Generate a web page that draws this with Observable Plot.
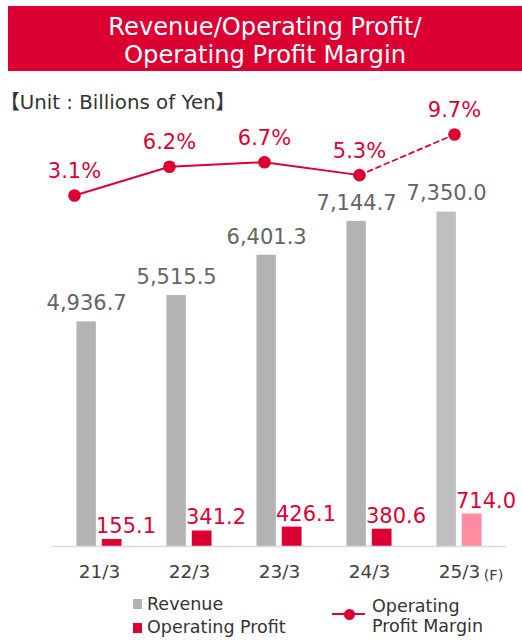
<!DOCTYPE html>
<html>
<head>
<meta charset="utf-8">
<script src="https://cdn.jsdelivr.net/npm/d3@7"></script>
<script src="https://cdn.jsdelivr.net/npm/@observablehq/plot@0.6"></script>
<style>
  html, body { margin: 0; padding: 0; background: #fff; }
  #wrap { position: relative; width: 522px; height: 640px; overflow: hidden; font-family: "DejaVu Sans", Verdana, sans-serif; }
  #wrap > div, #wrap > svg { position: absolute; }
  .title { left: 8px; top: 6px; width: 514px; height: 65px; background: #dc0032; color: #fff; font-size: 24.2px; line-height: 28px; text-align: center; padding-top: 7px; box-sizing: border-box; }
  .unit { left: 0px; top: 93px; font-size: 19.8px; line-height: 1; color: #333; white-space: nowrap; font-family: "DejaVu Sans", "Noto Sans CJK JP", sans-serif; }
  .leg { font-size: 17.5px; line-height: 20px; color: #333; white-space: nowrap; }
  .sq { width: 9px; height: 10px; }
</style>
</head>
<body>
<div id="wrap"></div>
<script>
const categories = ["21/3", "22/3", "23/3", "24/3", "25/3"];
const revenue = [4936.7, 5515.5, 6401.3, 7144.7, 7350.0];
const operatingProfit = [155.1, 341.2, 426.1, 380.6, 714.0];
const profitMargin = [3.1, 6.2, 6.7, 5.3, 9.7];
const isForecast = [false, false, false, false, true];

const RED = "#dc0032";
const rows = categories.map((c, i) => ({
  cat: c, revenue: revenue[i], profit: operatingProfit[i], margin: profitMargin[i], forecast: isForecast[i]
}));

const wrap = document.getElementById("wrap");

const main = Plot.plot({
  width: 522,
  height: 590,
  marginLeft: 51.5,
  marginRight: 16,
  marginTop: 0,
  marginBottom: 44,
  style: { fontFamily: "DejaVu Sans, Verdana, sans-serif", background: "transparent", overflow: "visible" },
  x: { type: "band", domain: categories, padding: 0, label: null },
  y: { domain: [0, 12000], axis: null },
  marks: [
    Plot.barY(rows, { x: "cat", y: "revenue", fill: d => d.forecast ? "#bfbfbf" : "#b3b3b3", insetLeft: 22.45, insetRight: 48.15 }),
    Plot.barY(rows, { x: "cat", y: "profit", fill: d => d.forecast ? "#ff8ca1" : RED, insetLeft: 47.75, insetRight: 22.45 }),
    Plot.ruleY([0], { stroke: "#d9d9d9", strokeWidth: 1.5 }),
    Plot.text(rows, { x: "cat", y: "revenue", text: d => d3.format(",.1f")(d.revenue), dx: -12.9, dy: -11.7, lineAnchor: "bottom", fontSize: 21, fill: "#646464" }),
    Plot.text(rows, { x: "cat", y: "profit", text: d => d3.format(".1f")(d.profit), dx: 26.5, dy: -6.5, lineAnchor: "bottom", fontSize: 21, fill: RED }),
    Plot.axisX({ tickSize: 0, tickPadding: 18, fontSize: 18.5, fill: "#404040", label: null }),
    Plot.text(rows.filter(d => d.forecast), { x: "cat", frameAnchor: "bottom", text: () => "(F)", dx: 34, dy: 33, lineAnchor: "bottom", fontSize: 14.5, fill: "#404040" })
  ]
});
main.style.left = "0px";
main.style.top = "0px";
wrap.appendChild(main);

const lineRowsSolid = rows.filter(d => !d.forecast);
const lastActual = lineRowsSolid.slice(-1);
const lineRowsDashed = lastActual.concat(rows.filter(d => d.forecast));

const over = Plot.plot({
  width: 522,
  height: 240,
  marginLeft: 74,
  marginRight: 68,
  marginTop: 131.2,
  marginBottom: 16.4,
  style: { fontFamily: "DejaVu Sans, Verdana, sans-serif", background: "transparent", overflow: "visible" },
  x: { type: "point", domain: categories, padding: 0, axis: null },
  y: { domain: [0, 10], axis: null },
  marks: [
    Plot.line(lineRowsSolid, { x: "cat", y: "margin", stroke: RED, strokeWidth: 2 }),
    Plot.line(lineRowsDashed, { x: "cat", y: "margin", stroke: RED, strokeWidth: 1.8, strokeDasharray: "5,4" }),
    Plot.dot(rows, { x: "cat", y: "margin", r: 6.3, fill: RED, stroke: null }),
    Plot.text(rows, { x: "cat", y: "margin", text: d => d3.format(".1f")(d.margin) + "%", dy: -17.5, lineAnchor: "bottom", fontSize: 21, fill: RED })
  ]
});
over.style.left = "0px";
over.style.top = "0px";
over.style.pointerEvents = "none";
wrap.appendChild(over);

function add(cls, css, text) {
  const el = document.createElement("div");
  el.className = cls;
  Object.assign(el.style, css);
  if (text != null) el.textContent = text;
  wrap.appendChild(el);
  return el;
}

add("title", {}, null).innerHTML = "Revenue/Operating Profit/<br>Operating Profit Margin";
add("unit", {}, "【Unit : Billions of Yen】");

// legend
add("sq", { left: "133px", top: "599px", background: "#b3b3b3" });
add("leg", { left: "147px", top: "594px" }, "Revenue");
add("sq", { left: "133px", top: "623px", background: RED });
add("leg", { left: "147px", top: "617px" }, "Operating Profit");
add("", { left: "332px", top: "613px", width: "33px", height: "2px", background: RED });
add("", { left: "344px", top: "609px", width: "11px", height: "11px", borderRadius: "50%", background: RED });
add("leg", { left: "372px", top: "596px" }, "Operating");
add("leg", { left: "372px", top: "616px" }, "Profit Margin");
</script>
</body>
</html>
